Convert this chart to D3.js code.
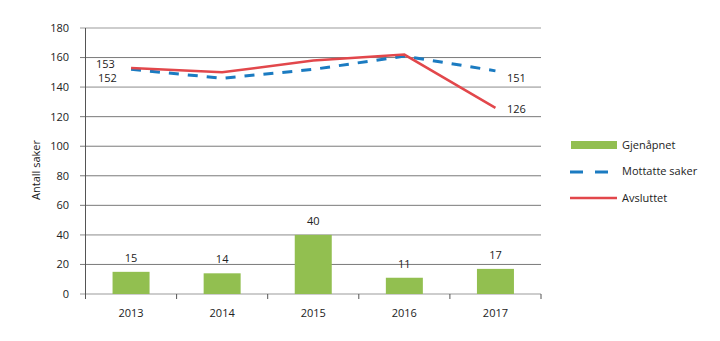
<!DOCTYPE html>
<html><head><meta charset="utf-8">
<script src="https://cdn.jsdelivr.net/npm/d3@7"></script>
<style>body{margin:0;background:#fff}svg{display:block;font-family:"Open Sans",sans-serif}</style>
</head><body><svg id="c" width="720" height="341"></svg>
<script>
const years = ["2013","2014","2015","2016","2017"];
const gjenapnet = [15,14,40,11,17];
const mottatte = [152,146,152,161,151];
const avsluttet = [153,150,158,162,126];
const yTicks = [0,20,40,60,80,100,120,140,160,180];
const seriesNames = ["Gjenåpnet","Mottatte saker","Avsluttet"];
const yTitle = "Antall saker";

const svg = d3.select("#c");
const L=85.5, R=541, T=28, B=294;
const x = d3.scaleBand().domain(years).range([L,R]);
const y = d3.scaleLinear().domain([0,180]).range([B,T]);
const green="#92bf50", blue="#1b7bc1", red="#e2474b";
const light = new Set([0,40,140,180]);

svg.append("g").selectAll("line").data(yTicks).join("line")
  .attr("x1",80).attr("x2",R).attr("y1",d=>y(d)).attr("y2",d=>y(d))
  .attr("stroke",d=>light.has(d)?"#bdbdbd":"#7a7a7a")
  .attr("stroke-width",d=>light.has(d)?1.6:1);
svg.append("g").selectAll("text").data(yTicks).join("text")
  .attr("x",69).attr("y",d=>y(d)).attr("dy","0.35em").attr("text-anchor","end")
  .attr("font-size",11).attr("fill","#222").text(d=>d);
svg.append("line").attr("x1",L).attr("x2",L).attr("y1",T).attr("y2",B+5).attr("stroke","#555");
const tickXs = years.map(d=>x(d)).concat([R]);
svg.append("g").selectAll("line").data(tickXs).join("line")
  .attr("x1",d=>d).attr("x2",d=>d).attr("y1",B).attr("y2",B+5).attr("stroke","#555");
svg.append("g").selectAll("text").data(years).join("text")
  .attr("x",d=>x(d)+x.bandwidth()/2).attr("y",317).attr("text-anchor","middle")
  .attr("font-size",11).attr("fill","#222").text(d=>d);
svg.append("text").attr("transform","translate(40,170) rotate(-90)").attr("text-anchor","middle")
  .attr("font-size",11).attr("fill","#222").text(yTitle);

const bw=37;
svg.append("g").selectAll("rect").data(gjenapnet).join("rect")
  .attr("x",(d,i)=>x(years[i])+x.bandwidth()/2-bw/2).attr("width",bw)
  .attr("y",d=>y(d)).attr("height",d=>B-y(d)).attr("fill",green);
svg.append("g").selectAll("text").data(gjenapnet).join("text")
  .attr("x",(d,i)=>x(years[i])+x.bandwidth()/2).attr("y",d=>y(d)-10)
  .attr("text-anchor","middle").attr("font-size",11).attr("fill","#222").text(d=>d);

const cx = i=>x(years[i])+x.bandwidth()/2;
const line = d3.line().x((d,i)=>cx(i)).y(d=>y(d));
svg.append("path").datum(mottatte).attr("d",line).attr("fill","none")
  .attr("stroke",blue).attr("stroke-width",3).attr("stroke-dasharray","10,9");
svg.append("path").datum(avsluttet).attr("d",line).attr("fill","none")
  .attr("stroke",red).attr("stroke-width",2.5);

const lab = (t,xx,yy)=>svg.append("text").attr("x",xx).attr("y",yy).attr("font-size",11).attr("fill","#222").text(t);
lab(avsluttet[0],96,68);
lab(mottatte[0],98,82);
lab(mottatte[4],507,82);
lab(avsluttet[4],507,113);

const lg = svg.append("g");
lg.append("rect").attr("x",571).attr("y",141).attr("width",46).attr("height",8).attr("fill",green);
lg.append("line").attr("x1",570).attr("x2",609).attr("y1",172).attr("y2",172)
  .attr("stroke",blue).attr("stroke-width",3).attr("stroke-dasharray","13,12");
lg.append("line").attr("x1",570).attr("x2",617).attr("y1",198).attr("y2",198)
  .attr("stroke",red).attr("stroke-width",2.5);
lg.selectAll("text").data(seriesNames).join("text")
  .attr("x",622).attr("y",(d,i)=>145+i*26.5).attr("dy","0.35em")
  .attr("font-size",11).attr("fill","#222").text(d=>d);
</script></body></html>
